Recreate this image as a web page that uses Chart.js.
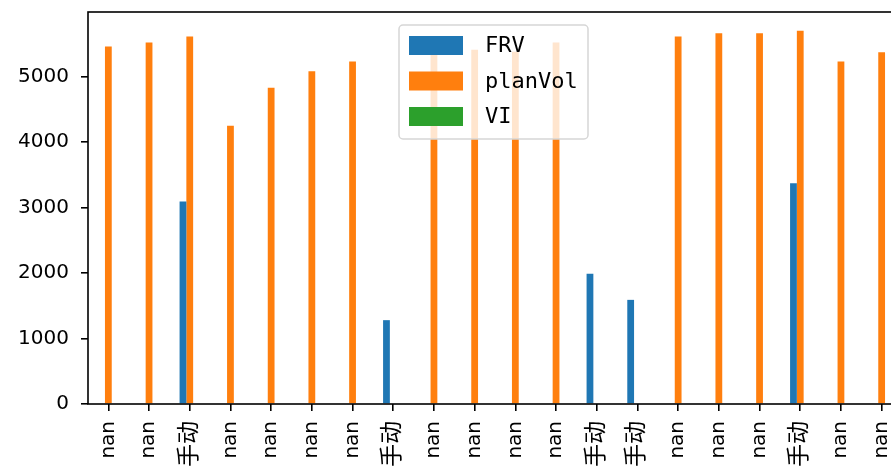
<!DOCTYPE html>
<html>
<head>
<meta charset="utf-8">
<script src="https://cdn.jsdelivr.net/npm/chart.js@4"></script>
<style>
    html, body { margin: 0; padding: 0; background: #fff; overflow: hidden; width: 891px; height: 473px; }
    #wrap { width: 910px; height: 473px; }
</style>
</head>
<body>
<div id="wrap"><canvas id="barChart" width="910" height="473"></canvas></div>
<script>
const categories = ['nan', 'nan', '手动', 'nan', 'nan', 'nan', 'nan', '手动', 'nan', 'nan',
                    'nan', 'nan', '手动', '手动', 'nan', 'nan', 'nan', '手动', 'nan', 'nan'];
const frvValues = [null, null, 3090, null, null, null, null, 1280, null, null,
                   null, null, 1990, 1590, null, null, null, 3370, null, null];
const planVolValues = [5460, 5520, 5610, 4250, 4830, 5080, 5230, null, 5340, 5410,
                       5380, 5520, null, null, 5610, 5660, 5660, 5700, 5230, 5370];
const viValues = [null, null, null, null, null, null, null, null, null, null,
                  null, null, null, null, null, null, null, null, null, null];
const yTicks = [0, 1000, 2000, 3000, 4000, 5000];

const fontFamily = '"DejaVu Sans", "Noto Sans CJK SC", sans-serif';

// legend drawn inside the plot, matplotlib style
const insideLegend = {
    id: 'insideLegend',
    afterDraw(chart) {
        const ctx = chart.ctx;
        const area = chart.chartArea;
        ctx.save();
        // frame (all four spines)
        ctx.strokeStyle = '#000';
        ctx.lineWidth = 1.6;
        ctx.strokeRect(area.left, area.top, area.right - area.left, area.bottom - area.top);

        const x = 399, y = 25, w = 189, h = 114;
        ctx.beginPath();
        ctx.roundRect(x, y, w, h, 4);
        ctx.fillStyle = 'rgba(255,255,255,0.8)';
        ctx.fill();
        ctx.strokeStyle = '#d6d6d6';
        ctx.lineWidth = 1.5;
        ctx.stroke();

        ctx.font = '22px "DejaVu Sans Mono", monospace';
        ctx.textBaseline = 'middle';
        chart.data.datasets.forEach((ds, i) => {
            const cy = 45.5 + i * 35.5;
            ctx.fillStyle = ds.backgroundColor;
            ctx.fillRect(409, cy - 9.5, 54, 19);
            ctx.fillStyle = '#000';
            ctx.fillText(ds.label, 485, cy + 1);
        });
        ctx.restore();
    }
};

const ctx = document.getElementById('barChart').getContext('2d');
new Chart(ctx, {
    type: 'bar',
    data: {
        labels: categories,
        datasets: [
            { label: 'FRV', data: frvValues, backgroundColor: '#1f77b4' },
            { label: 'planVol', data: planVolValues, backgroundColor: '#ff7f0e' },
            { label: 'VI', data: viValues, backgroundColor: '#2ca02c' }
        ]
    },
    options: {
        responsive: false,
        animation: false,
        devicePixelRatio: 1,
        categoryPercentage: 0.5,
        barPercentage: 1.0,
        layout: { padding: { top: 12, right: 8, left: 0, bottom: 0 } },
        plugins: {
            legend: { display: false },
            tooltip: { enabled: false }
        },
        scales: {
            x: {
                offset: true,
                grid: { display: true, offset: false, drawOnChartArea: false, drawTicks: true, tickLength: 7, color: '#000', lineWidth: 1.6 },
                border: { display: false },
                ticks: {
                    color: '#000',
                    // the CJK labels come out a bit larger in the original
                    font: c => ({ family: fontFamily, size: categories[c.index] === '手动' ? 23 : 20 }),
                    minRotation: 90, maxRotation: 90, padding: 10, autoSkip: false
                },
                afterFit: scale => { scale.height = 69; scale.paddingLeft = 0; scale.paddingRight = 0; }
            },
            y: {
                min: 0,
                max: 5985,
                grid: { display: true, drawOnChartArea: false, drawTicks: true, tickLength: 7, color: '#000', lineWidth: 1.6 },
                border: { display: false },
                ticks: { color: '#000', font: { family: fontFamily, size: 20 }, padding: 12, callback: v => String(v) },
                afterBuildTicks: scale => { scale.ticks = yTicks.map(v => ({ value: v })); },
                afterFit: scale => { scale.width = 88; scale.paddingTop = 0; scale.paddingBottom = 0; }
            }
        }
    },
    plugins: [insideLegend]
});
</script>
</body>
</html>
